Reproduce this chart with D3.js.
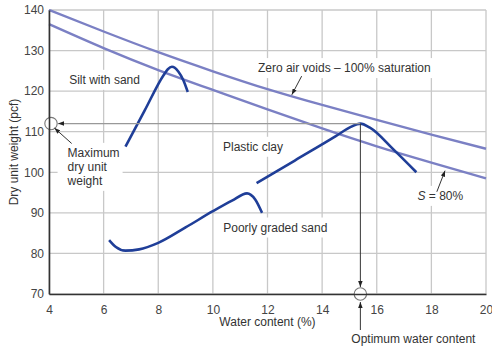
<!DOCTYPE html>
<html>
<head>
<meta charset="utf-8">
<script src="https://cdn.jsdelivr.net/npm/d3@7"></script>
<style>
  body { margin: 0; background: #fff; }
  svg { display: block; }
  text { font-family: "Liberation Sans", Arial, sans-serif; }
</style>
</head>
<body>
<svg id="chart" width="492" height="350"></svg>
<script>
// Axis ticks
const waterTicks = [4, 6, 8, 10, 12, 14, 16, 18, 20];
const weightTicks = [70, 80, 90, 100, 110, 120, 130, 140];

// Saturation lines (water content %, dry unit weight pcf)
const saturationW = [4, 6, 8, 10, 12, 14, 16, 18, 20];
const zeroAirVoids = [140, 134.7, 129.6, 124.9, 120.5, 116.6, 112.9, 109.3, 105.8];
const saturation80 = [136.5, 130.6, 125.2, 120.3, 115.5, 110.8, 106.4, 102.4, 98.5];

// Compaction curves
const siltW     = [6.8, 7.5, 8.2, 8.35, 8.5, 8.74, 8.92, 9.08];
const siltGamma = [106.3, 115.2, 124.0, 125.4, 126.0, 124.8, 122.7, 119.8];

const sandW     = [6.2, 6.45, 6.8, 7.3, 8.0, 9.0, 10.0, 10.7, 11.25, 11.55, 11.8];
const sandGamma = [83.3, 81.6, 80.7, 81.0, 82.6, 86.4, 90.4, 93.0, 94.8, 93.3, 90.0];

const optimumW = 15.4;
const maxDryWeight = 112;
const clayW     = [11.6, 13.0, 14.5, 15.05, optimumW, 15.75, 16.6, 17.45];
const clayGamma = [97.3, 102.9, 108.9, 111.2, maxDryWeight, 111.0, 105.7, 100.0];

const svg = d3.select("#chart");
const x = d3.scaleLinear().domain([4, 20]).range([49, 486]);
const y = d3.scaleLinear().domain([70, 140]).range([294, 10]);

const gridG = svg.append("g");
const bgG = svg.append("g");
const curveG = svg.append("g");
const annoG = svg.append("g");
const textG = svg.append("g");

// Grid
gridG.selectAll("line.v").data(waterTicks).join("line")
  .attr("x1", d => x(d)).attr("x2", d => x(d))
  .attr("y1", y(70)).attr("y2", y(140))
  .attr("stroke", "#c8c8c8").attr("stroke-width", 1.3);
gridG.selectAll("line.h").data(weightTicks).join("line")
  .attr("y1", d => y(d)).attr("y2", d => y(d))
  .attr("x1", x(4)).attr("x2", x(20))
  .attr("stroke", "#c8c8c8").attr("stroke-width", 1.3);

// Axes
const xAxis = d3.axisBottom(x).tickValues(waterTicks).tickSize(0).tickPadding(11);
const yAxis = d3.axisLeft(y).tickValues(weightTicks).tickSize(0).tickPadding(5);
const gx = svg.append("g").attr("transform", `translate(0,${y(70)})`).call(xAxis);
const gy = svg.append("g").attr("transform", `translate(${x(4)},0)`).call(yAxis);
[gx, gy].forEach(g => {
  g.select(".domain").attr("stroke", "#333").attr("stroke-width", 1.6);
  g.selectAll("text").attr("font-size", 12).attr("fill", "#444")
    .attr("font-family", "\"Liberation Sans\", Arial, sans-serif");
});

// Curves
const zip = (a, b) => a.map((v, i) => [v, b[i]]);
const smoothLine = d3.line().x(d => x(d[0])).y(d => y(d[1])).curve(d3.curveNatural);
const line = d3.line().x(d => x(d[0])).y(d => y(d[1])).curve(d3.curveMonotoneX);

[zeroAirVoids, saturation80].forEach(vals => {
  curveG.append("path").datum(zip(saturationW, vals)).attr("d", smoothLine)
    .attr("fill", "none").attr("stroke", "#7b80c4").attr("stroke-width", 2.4);
});

[[siltW, siltGamma], [sandW, sandGamma], [clayW, clayGamma]].forEach(([w, g]) => {
  curveG.append("path").datum(zip(w, g)).attr("d", line)
    .attr("fill", "none").attr("stroke", "#1f3e98").attr("stroke-width", 2.6)
    .attr("stroke-linejoin", "round").attr("stroke-linecap", "butt");
});

// Arrow marker
svg.append("defs").append("marker")
  .attr("id", "arrow").attr("viewBox", "0 0 8 6")
  .attr("refX", 8).attr("refY", 3)
  .attr("markerWidth", 6).attr("markerHeight", 4.5)
  .attr("markerUnits", "userSpaceOnUse")
  .attr("orient", "auto")
  .append("path").attr("d", "M0,0 L8,3 L0,6 Z").attr("fill", "#222");

// Maximum dry unit weight / optimum water content guides
annoG.append("line")
  .attr("x1", x(optimumW)).attr("x2", x(4) + 9)
  .attr("y1", y(maxDryWeight)).attr("y2", y(maxDryWeight))
  .attr("stroke", "#999").attr("stroke-width", 1.1)
  .attr("marker-end", "url(#arrow)");
annoG.append("line")
  .attr("x1", x(optimumW)).attr("x2", x(optimumW))
  .attr("y1", y(maxDryWeight)).attr("y2", y(70) - 7)
  .attr("stroke", "#333").attr("stroke-width", 1)
  .attr("marker-end", "url(#arrow)");
annoG.append("line")
  .attr("x1", x(optimumW)).attr("x2", x(optimumW))
  .attr("y1", y(70) + 36).attr("y2", y(70) + 8)
  .attr("stroke", "#333").attr("stroke-width", 1)
  .attr("marker-end", "url(#arrow)");

[[4, maxDryWeight], [optimumW, 70]].forEach(([w, g]) => {
  annoG.append("circle").attr("cx", x(w) + (w === 4 ? 2 : 0)).attr("cy", y(g)).attr("r", 6.2)
    .attr("fill", "#fff").attr("stroke", "#777").attr("stroke-width", 1.1);
});

// Label pointers
const pointers = [
  [[4.83, 107.1], [4.2, 110.9]],
  [[13.25, 123.7], [12.89, 119.1]],
  [[18.2, 95.2], [18.5, 100.4]]
];
pointers.forEach(([a, b]) => {
  annoG.append("line")
    .attr("x1", x(a[0])).attr("y1", y(a[1]))
    .attr("x2", x(b[0])).attr("y2", y(b[1]))
    .attr("stroke", "#333").attr("stroke-width", 1)
    .attr("marker-end", "url(#arrow)");
});

// Labels with white backing boxes
function label(lines, w, g, opts = {}) {
  const t = textG.append("text")
    .attr("x", x(w)).attr("y", y(g))
    .attr("font-size", 12).attr("fill", "#333");
  lines.forEach((s, i) => {
    const ts = t.append("tspan").attr("x", x(w)).attr("dy", i === 0 ? 0 : 14);
    if (typeof s === "string") ts.text(s);
    else s(ts);
  });
  const b = t.node().getBBox();
  const p = opts.pad || 3;
  bgG.append("rect")
    .attr("x", b.x - (opts.padLeft || p)).attr("y", b.y - p)
    .attr("width", b.width + (opts.padLeft || p) + p).attr("height", b.height + 2 * p)
    .attr("fill", "#fff");
  return t;
}

label(["Silt with sand"], 4.74, 121.8);
label(["Zero air voids \u2013 100% saturation"], 11.65, 124.7);
label(["Plastic clay"], 10.37, 105.3);
label(["Maximum", "dry unit", "weight"], 4.68, 103.8, { padLeft: 9 });
label(["Poorly graded sand"], 10.38, 85.4);
label([ts => {
  ts.append("tspan").attr("font-style", "italic").text("S");
  ts.append("tspan").text(" = 80%");
}], 17.49, 93.2);

// Axis titles
svg.append("text")
  .attr("x", (x(4) + x(20)) / 2).attr("y", 326)
  .attr("text-anchor", "middle").attr("font-size", 12).attr("fill", "#333")
  .text("Water content (%)");
svg.append("text")
  .attr("transform", `translate(18,${(y(70) + y(140)) / 2}) rotate(-90)`)
  .attr("text-anchor", "middle").attr("font-size", 12).attr("fill", "#333")
  .text("Dry unit weight (pcf)");
svg.append("text")
  .attr("x", x(optimumW) - 9).attr("y", 343)
  .attr("font-size", 12).attr("fill", "#333")
  .text("Optimum water content");
</script>
</body>
</html>
